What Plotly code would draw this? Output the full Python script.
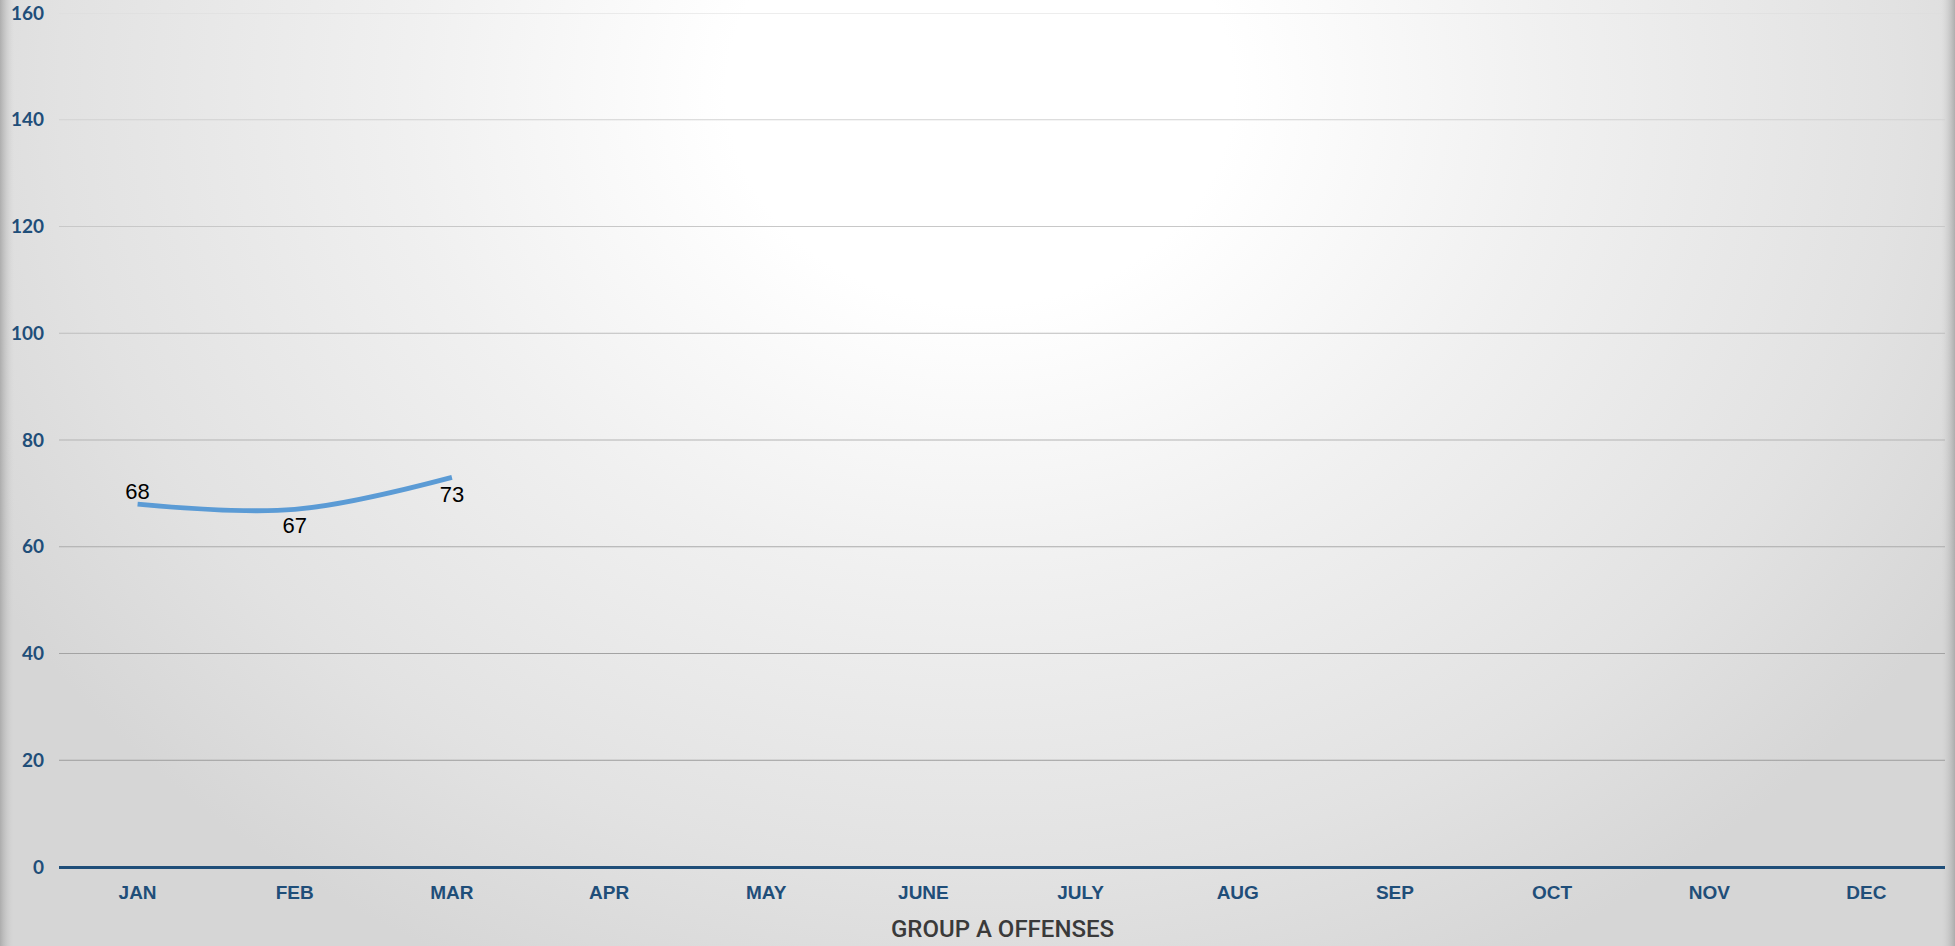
import base64
import plotly.graph_objects as go

months = ["JAN", "FEB", "MAR", "APR", "MAY", "JUNE", "JULY", "AUG", "SEP", "OCT", "NOV", "DEC"]
offenses = [68, 67, 73, None, None, None, None, None, None, None, None, None]
label_pos = ["top center", "bottom center", "bottom center"] + ["top center"] * 9
y_ticks = [0, 20, 40, 60, 80, 100, 120, 140, 160]
grid_colors = {20: "#9c9c9c", 40: "#a3a3a3", 60: "#ababab", 80: "#b3b3b3",
               100: "#bdbdbd", 120: "#c8c8c8", 140: "#d2d2d2", 160: "#dcdcdc"}

W, H = 1955, 946
L, R, T, B = 59, 10, 13, 79
PW, PH = W - L - R, H - T - B

svg = f'''<svg xmlns="http://www.w3.org/2000/svg" width="{W}" height="{H}" viewBox="0 0 {W} {H}" preserveAspectRatio="none">
<defs>
<radialGradient id="g" gradientUnits="userSpaceOnUse" cx="980" cy="90" r="1150" gradientTransform="translate(980 90) scale(1 0.85) translate(-980 -90)">
<stop offset="0" stop-color="#ffffff"/>
<stop offset="0.22" stop-color="#ffffff"/>
<stop offset="0.5" stop-color="#f0f0f0"/>
<stop offset="0.8" stop-color="#e2e2e2"/>
<stop offset="1" stop-color="#d6d6d6"/>
</radialGradient>
<linearGradient id="lft" x1="0" y1="0" x2="1" y2="0">
<stop offset="0" stop-color="#a8a8a8" stop-opacity="0.9"/>
<stop offset="1" stop-color="#d0d0d0" stop-opacity="0"/>
</linearGradient>
<linearGradient id="rgt" x1="1" y1="0" x2="0" y2="0">
<stop offset="0" stop-color="#a8a8a8" stop-opacity="0.9"/>
<stop offset="1" stop-color="#d0d0d0" stop-opacity="0"/>
</linearGradient>
</defs>
<rect x="0" y="0" width="{W}" height="{H}" fill="url(#g)"/>
<rect x="0" y="0" width="14" height="{H}" fill="url(#lft)"/>
<rect x="{W-14}" y="0" width="14" height="{H}" fill="url(#rgt)"/>
</svg>'''
bg_uri = "data:image/svg+xml;base64," + base64.b64encode(svg.encode()).decode()

fig = go.Figure()
fig.add_trace(go.Scatter(
    x=months, y=offenses, mode="lines+markers+text",
    line=dict(color="#5B9BD5", width=4.8, shape="spline", smoothing=1),
    marker=dict(size=[0, 9, 12] + [0] * 9, opacity=0, color="#5B9BD5"),
    text=[str(v) if v is not None else "" for v in offenses],
    textposition=label_pos,
    textfont=dict(family="Liberation Sans, Arial, sans-serif", size=22, color="#000000"),
    hoverinfo="skip", showlegend=False, cliponaxis=False,
))

shapes = []
for v in y_ticks[1:]:
    shapes.append(dict(type="line", xref="paper", x0=0, x1=1, yref="y", y0=v, y1=v,
                       line=dict(color=grid_colors[v], width=1), layer="below"))

fig.update_layout(
    width=W, height=H,
    margin=dict(l=L, r=R, t=T, b=B, autoexpand=False),
    paper_bgcolor="#e4e4e4",
    plot_bgcolor="rgba(0,0,0,0)",
    images=[dict(source=bg_uri, xref="paper", yref="paper",
                 x=-L / PW, y=1 + T / PH, sizex=W / PW, sizey=H / PH,
                 xanchor="left", yanchor="top", sizing="stretch", layer="below")],
    shapes=shapes,
    xaxis=dict(
        type="category", categoryorder="array", categoryarray=months,
        range=[-0.5, 11.5], showgrid=False, zeroline=False, showline=False,
        tickfont=dict(family="Liberation Sans, Arial, sans-serif", size=19, color="#1F4E79", weight="bold"),
        ticks="", ticklabelstandoff=12, automargin=False,
    ),
    yaxis=dict(
        range=[0, 160], tickvals=y_ticks, showgrid=False,
        zeroline=True, zerolinecolor="#1F4E79", zerolinewidth=3,
        showline=False, ticks="", automargin=False,
        tickfont=dict(family="Lato, Open Sans, sans-serif", size=19, color="#1F4E79", weight="bold"),
        ticklabelstandoff=14,
    ),
    annotations=[dict(
        text="GROUP A OFFENSES", xref="paper", yref="paper", x=0.5, y=-(945 - 867) / PH,
        xanchor="center", yanchor="bottom", showarrow=False,
        font=dict(family="Roboto, sans-serif", size=24, color="#3a3a3a", weight=500),
    )],
)

fig.write_html("out.html", config={"displayModeBar": False},
               post_script="document.body.style.margin='0';document.body.style.overflow='hidden';")
